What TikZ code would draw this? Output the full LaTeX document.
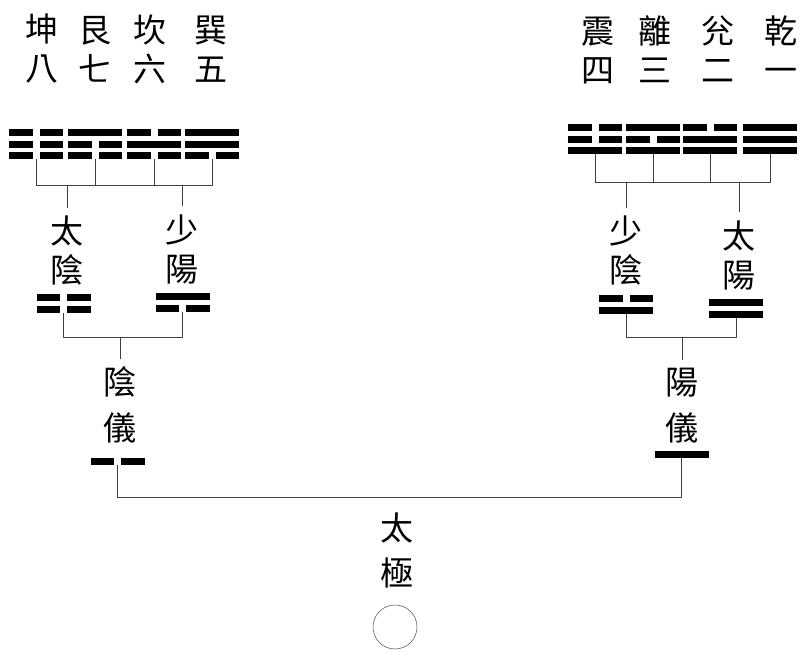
\documentclass[tikz,border=0pt]{standalone}
\usepackage{fontspec}
\newfontfamily\cjk{Noto Sans CJK TC}

\tikzset{
  zi/.style={font=\cjk\fontsize{33pt}{39pt}\selectfont, align=center, inner sep=0pt, outer sep=8pt},
  guabox/.style={anchor=north, minimum width=54pt, inner sep=0pt, outer sep=0pt},
  wire/.style={black!75, line width=0.6pt},
}

% #1 name, #2 x, #3 top y, #4 number of lines, #5 lines from the top (1 yang, 0 yin)
\newcommand{\gua}[5]{%
  \node[guabox, minimum height={(#4-1)*11.5pt+7pt}] (#1) at (#2,#3) {};
  \foreach \yy [count=\i from 0] in {#5}{
    \ifnum\yy=1
      \fill ([yshift={-\i*11.5pt}]#1.north west) rectangle ++(54pt,-7pt);
    \else
      \fill ([yshift={-\i*11.5pt}]#1.north west) rectangle ++(23.5pt,-7pt);
      \fill ([yshift={-\i*11.5pt}]#1.north east) rectangle ++(-23.5pt,-7pt);
    \fi
  }%
}

\begin{document}
\begin{tikzpicture}[x=1pt, y=-1pt]
\useasboundingbox (0,0) rectangle (807,652);

% names of the eight trigrams
\node[zi] (kunT)  at (42,49)  {坤\\八};
\node[zi] (genT)  at (95,49)  {艮\\七};
\node[zi] (kanT)  at (150,49) {坎\\六};
\node[zi] (xunT)  at (211,49) {巽\\五};
\node[zi] (zhenT) at (598,51) {震\\四};
\node[zi] (liT)   at (655,49) {離\\三};
\node[zi] (duiT)  at (718,49) {兊\\二};
\node[zi] (qianT) at (781,49) {乾\\一};

% eight trigrams
\gua{kun}{36}{129.5}{3}{0,0,0}
\gua{gen}{95}{129.5}{3}{1,0,0}
\gua{kan}{154}{129.5}{3}{0,1,0}
\gua{xun}{212}{129.5}{3}{1,1,0}
\gua{zhen}{595}{124.5}{3}{0,0,1}
\gua{li}{653}{124.5}{3}{1,0,1}
\gua{dui}{710}{124.5}{3}{0,1,1}
\gua{qian}{770}{124.5}{3}{1,1,1}

% four images
\node[zi] (taiyinT)   at (67,251)  {太\\陰};
\node[zi] (shaoyangT) at (182,249) {少\\陽};
\node[zi] (shaoyinT)  at (626,251) {少\\陰};
\node[zi] (taiyangT)  at (739,255) {太\\陽};
\gua{taiyin}{63.5}{294.5}{2}{0,0}
\gua{shaoyang}{182.5}{293.5}{2}{1,0}
\gua{shaoyin}{626}{295.5}{2}{0,1}
\gua{taiyang}{736}{299.5}{2}{1,1}

% two modes
\node[zi, font=\cjk\fontsize{33pt}{46pt}\selectfont] (yinyiT)  at (120,405) {陰\\儀};
\node[zi, font=\cjk\fontsize{33pt}{46pt}\selectfont] (yangyiT) at (682,406) {陽\\儀};
\gua{yinyi}{117.5}{458.5}{1}{0}
\gua{yangyi}{681.5}{451.5}{1}{1}

% supreme ultimate
\node[zi, font=\cjk\fontsize{33pt}{45pt}\selectfont] (taijiT) at (397,550) {太\\極};
\node[draw=black!70, circle, minimum size=44pt, inner sep=0pt, line width=0.5pt] (taiji) at (395,627) {};

% brackets
\coordinate (jA) at (0,185);
\coordinate (jB) at (0,182);
\coordinate (jC) at (0,337);
\coordinate (jD) at (0,497);
\draw[wire] (kun.south) |- (xun.south |- jA) -- (xun.south);
\draw[wire] (gen.south) -- (gen.south |- jA);
\draw[wire] (kan.south) -- (kan.south |- jA);
\draw[wire] (taiyinT.north |- jA) -- (taiyinT.north);
\draw[wire] (shaoyangT.north |- jA) -- (shaoyangT.north);
\draw[wire] (zhen.south) |- (qian.south |- jB) -- (qian.south);
\draw[wire] (li.south) -- (li.south |- jB);
\draw[wire] (dui.south) -- (dui.south |- jB);
\draw[wire] (shaoyinT.north |- jB) -- (shaoyinT.north);
\draw[wire] (taiyangT.north |- jB) -- (taiyangT.north);

\draw[wire] (taiyin.south) |- (shaoyang.south |- jC) -- (shaoyang.south);
\draw[wire] (yinyiT.north |- jC) -- (yinyiT.north);
\draw[wire] (shaoyin.south) |- (taiyang.south |- jC) -- (taiyang.south);
\draw[wire] (yangyiT.north |- jC) -- (yangyiT.north);

\draw[wire] (yinyi.south) |- (yangyi.south |- jD) -- (yangyi.south);
\end{tikzpicture}
\end{document}
